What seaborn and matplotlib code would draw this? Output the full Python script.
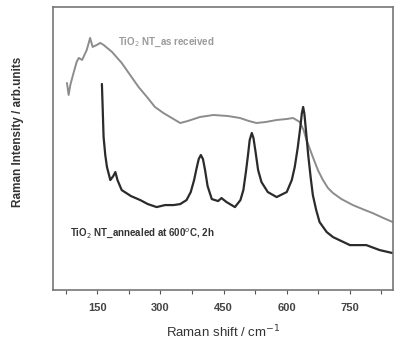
import matplotlib
matplotlib.use('Agg')
import matplotlib.pyplot as plt
from matplotlib.ticker import MultipleLocator
import seaborn as sns
import pandas as pd

# TiO2 NT as received (grey)
shift_asrec = [78, 82, 86, 93, 101, 106, 114, 125, 133, 139, 149, 157, 165, 185,
               208, 228, 248, 268, 287, 307, 327, 347, 365, 394, 426, 460, 489,
               510, 528, 550, 576, 600, 615, 631, 640, 647, 655, 662, 674, 686,
               698, 710, 730, 757, 780, 804, 830, 852]
int_asrec = [207, 195, 205, 216, 228, 232, 230, 240, 252, 243, 245, 247, 245, 238,
             227, 215, 203, 193, 183, 177, 172, 167, 169, 173, 175, 174, 172,
             169, 167, 168, 170, 171, 172, 168, 160, 150, 141, 133, 120, 110,
             102, 97, 91, 85, 81, 77, 72, 68]

# TiO2 NT annealed at 600 C, 2h (black)
shift_ann = [161, 163, 165, 169, 173, 181, 188, 193, 198, 208, 230, 252, 270, 291,
             311, 331, 347, 362, 372, 380, 386, 391, 396, 401, 406, 412, 422, 437,
             445, 457, 477, 490, 497, 503, 508, 512, 517, 521, 526, 532, 540, 555,
             576, 600, 612, 619, 626, 632, 636, 639, 642, 646, 651, 657, 662, 670,
             678, 695, 710, 750, 789, 821, 852]
int_ann = [206, 180, 153, 135, 123, 110, 114, 118, 110, 100, 94, 90, 86, 83,
           85, 85, 86, 90, 98, 110, 122, 131, 135, 131, 120, 104, 91, 89,
           92, 88, 83, 90, 100, 118, 135, 150, 157, 152, 138, 120, 108, 98,
           93, 98, 110, 123, 142, 162, 177, 183, 176, 158, 135, 112, 95, 80,
           68, 58, 53, 45, 45, 40, 37]

df_asrec = pd.DataFrame({'shift': shift_asrec, 'intensity': int_asrec})
df_ann = pd.DataFrame({'shift': shift_ann, 'intensity': int_ann})

sns.set_style('white')
plt.rcParams['font.family'] = ['Liberation Sans', 'DejaVu Sans']

fig = plt.figure(figsize=(3.96, 3.45), dpi=100)
ax = fig.add_axes([0.134, 0.159, 0.858, 0.821])

sns.lineplot(data=df_asrec, x='shift', y='intensity', ax=ax,
             color='#8c8c8c', lw=1.4, estimator=None, sort=False)
sns.lineplot(data=df_ann, x='shift', y='intensity', ax=ax,
             color='#2b2b2b', lw=1.6, estimator=None, sort=False)

ax.text(200, 248, 'TiO$_2$ NT_as received', color='#9a9a9a', fontsize=7,
        fontweight='bold', va='center')
ax.text(86, 57, 'TiO$_2$ NT_annealed at 600$^o$C, 2h', color='#333333',
        fontsize=7, fontweight='bold', va='center')

ax.set_xlim(45, 852)
ax.set_ylim(0, 283)
ax.xaxis.set_major_locator(MultipleLocator(150))
ax.xaxis.set_minor_locator(MultipleLocator(75))
ax.set_yticks([])
ax.tick_params(axis='x', which='both', direction='out', bottom=True,
               length=3, width=0.8, color='#555555', labelsize=8,
               labelcolor='#444444', pad=6)
for lab in ax.get_xticklabels():
    lab.set_fontweight('bold')

for side in ['left', 'right', 'top', 'bottom']:
    ax.spines[side].set_color('#777777')
    ax.spines[side].set_linewidth(1.2)

ax.set_xlabel('Raman shift / cm$^{-1}$', fontsize=9.5, color='#333333',
              labelpad=8)
ax.set_ylabel('Raman Intensity / arb.units', fontsize=8.5, color='#333333',
              fontweight='bold')
ax.yaxis.set_label_coords(-0.085, 0.56)

plt.savefig('out.png', dpi=100)
plt.close()
